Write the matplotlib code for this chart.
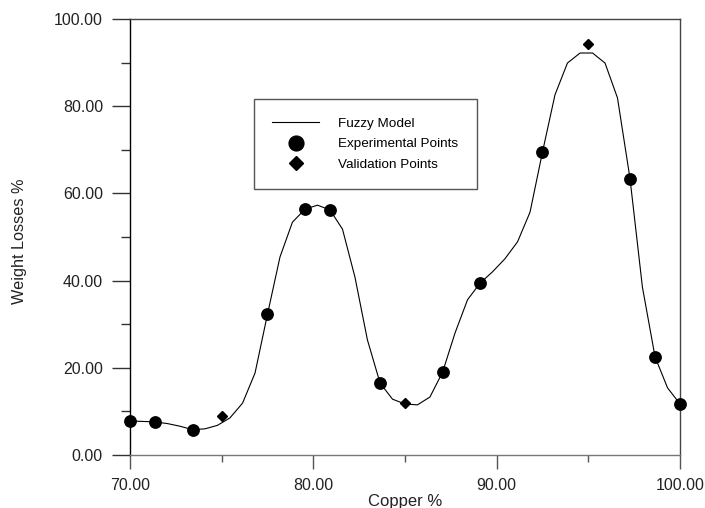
import matplotlib.pyplot as plt
from matplotlib.ticker import MultipleLocator, FormatStrFormatter

plt.rcParams['font.family'] = ['Liberation Sans', 'DejaVu Sans']

# Salida del modelo difuso (curva continua)
modelo_cobre = [70.00, 70.68, 71.36, 72.05, 72.73, 73.41, 74.09, 74.77, 75.45,
                76.14, 76.82, 77.50, 78.18, 78.86, 79.55, 80.23, 80.91, 81.59,
                82.27, 82.95, 83.64, 84.32, 85.00, 85.68, 86.36, 87.05, 87.73,
                88.41, 89.09, 89.77, 90.45, 91.14, 91.82, 92.50, 93.18, 93.86,
                94.55, 95.23, 95.91, 96.59, 97.27, 97.95, 98.64, 99.32, 100.00]
modelo_perdida = [7.8, 7.7, 7.6, 7.2, 6.6, 5.8, 6.0, 6.8, 8.5,
                  11.9, 18.8, 32.3, 45.4, 53.4, 56.4, 57.3, 56.2, 51.8,
                  40.8, 26.4, 16.5, 12.8, 11.7, 11.5, 13.3, 19.0, 28.0,
                  35.6, 39.4, 42.0, 45.0, 48.9, 55.7, 69.5, 82.6, 89.9,
                  92.2, 92.2, 89.9, 81.9, 63.5, 38.5, 22.5, 15.4, 11.7]

# Puntos experimentales
exp_cobre = [70.00, 71.36, 73.41, 77.50, 79.55, 80.91, 83.64,
             87.05, 89.09, 92.50, 97.27, 98.64, 100.00]
exp_perdida = [7.8, 7.6, 5.8, 32.3, 56.4, 56.2, 16.6,
               19.0, 39.4, 69.5, 63.4, 22.5, 11.7]

# Puntos de validación
val_cobre = [75.0, 85.0, 95.0]
val_perdida = [8.9, 11.9, 94.3]

fig = plt.figure(figsize=(7.05, 5.08), dpi=100)
ax = fig.add_axes([130 / 705, 1 - 455 / 508, 550 / 705, 436 / 508])

ax.plot(modelo_cobre, modelo_perdida, color='black', linewidth=0.8,
        label='Fuzzy Model', zorder=2)
ax.plot(exp_cobre, exp_perdida, linestyle='none', marker='o', markersize=8.2,
        color='black', label='Experimental Points', clip_on=False, zorder=3)
ax.plot(val_cobre, val_perdida, linestyle='none', marker='D', markersize=5.5,
        color='black', label='Validation Points', clip_on=False, zorder=3)

ax.set_xlim(70, 100)
ax.set_ylim(0, 100)

ax.xaxis.set_major_locator(MultipleLocator(10))
ax.xaxis.set_minor_locator(MultipleLocator(5))
ax.yaxis.set_major_locator(MultipleLocator(20))
ax.yaxis.set_minor_locator(MultipleLocator(10))
ax.xaxis.set_major_formatter(FormatStrFormatter('%.2f'))
ax.yaxis.set_major_formatter(FormatStrFormatter('%.2f'))

ax.tick_params(axis='x', which='major', direction='out', length=10, width=1,
               pad=6.5, labelsize=11.5, color='#555555', labelcolor='#222222')
ax.tick_params(axis='x', which='minor', direction='out', length=5, width=1,
               color='#555555')
ax.tick_params(axis='y', which='major', direction='out', length=13, width=1,
               pad=6.5, labelsize=11.5, color='#333333', labelcolor='#222222')
ax.tick_params(axis='y', which='minor', direction='out', length=6.5, width=1,
               color='#333333')

ax.spines['left'].set_color('black')
ax.spines['bottom'].set_color('#777777')
ax.spines['top'].set_color('#444444')
ax.spines['right'].set_color('#444444')
for s in ax.spines.values():
    s.set_linewidth(1)

ax.set_xlabel('Copper %', fontsize=12, color='#222222')
ax.set_ylabel('Weight Losses %', fontsize=11.7, color='#222222')
ax.xaxis.set_label_coords(0.5, -0.09)
ax.yaxis.set_label_coords(-0.187, 0.49)

leg = ax.legend(loc='upper left', bbox_to_anchor=(254 / 705, 1 - 99 / 508),
                bbox_transform=fig.transFigure, borderaxespad=0,
                fontsize=9.7, frameon=True, fancybox=False, framealpha=1,
                edgecolor='#555555', borderpad=1.35, labelspacing=0.62,
                handlelength=3.5, handletextpad=1.4, markerscale=1.3)
leg.get_frame().set_linewidth(1)

fig.savefig('out.png', dpi=100)
